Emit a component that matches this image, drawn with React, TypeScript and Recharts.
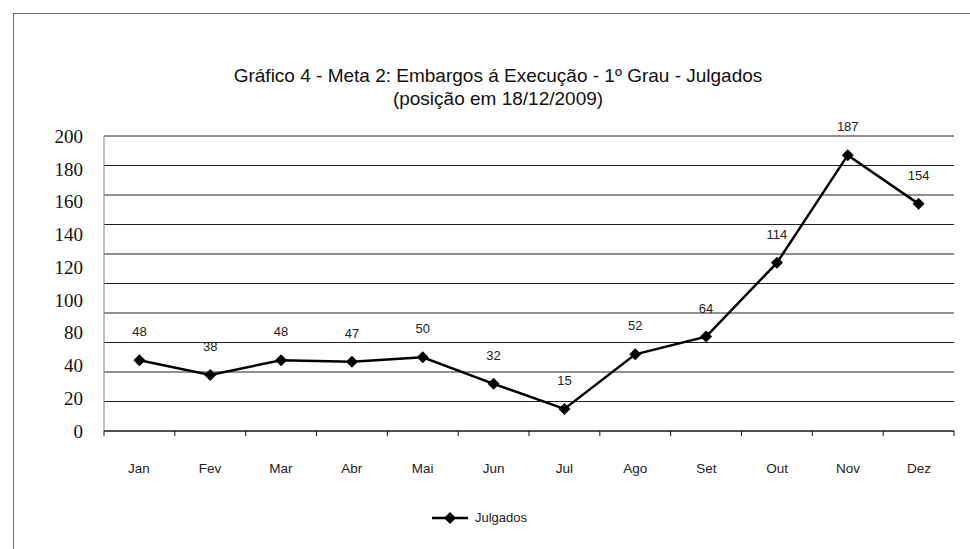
import { LineChart, Line, XAxis, YAxis, CartesianGrid, LabelList } from "recharts";

const months = ["Jan", "Fev", "Mar", "Abr", "Mai", "Jun", "Jul", "Ago", "Set", "Out", "Nov", "Dez"];
const julgados = [48, 38, 48, 47, 50, 32, 15, 52, 64, 114, 187, 154];
// value grid every 20, the printed labels as they appear on the scan
const valueTicks = [0, 20, 40, 60, 80, 100, 120, 140, 160, 180, 200];
const yLabels = ["0", "20", "40", "80", "100", "120", "140", "160", "180", "200"];
const bandTicks = [0, 1, 2, 3, 4, 5, 6, 7, 8, 9, 10, 11, 12];

// each month sits in the middle of its band
const data = months.map((m, i) => ({ month: m, pos: i + 0.5, julgados: julgados[i] }));

const sans = "'Liberation Sans', Arial, sans-serif";
const serif = "'Liberation Serif', 'Times New Roman', serif";

const Diamond = (props: any) => {
  const { cx, cy } = props;
  if (cx == null || cy == null) return null;
  const r = 6;
  return (
    <polygon
      points={`${cx},${cy - r} ${cx + r},${cy} ${cx},${cy + r} ${cx - r},${cy}`}
      fill="#000"
    />
  );
};

const ValueLabel = (props: any) => {
  const { x, y, value } = props;
  return (
    <text x={x} y={y - 24} textAnchor="middle" fontSize={13} fontFamily={sans} fill="#222">
      {value}
    </text>
  );
};

export default function App() {
  return (
    <div style={{ position: "absolute", left: 0, top: 0, width: 970, height: 549, background: "#fff" }}>
      <div
        style={{
          position: "absolute",
          left: 13,
          top: 13,
          right: 0,
          bottom: 0,
          borderTop: "1px solid #666",
          borderLeft: "1px solid #666",
        }}
      />
      <div
        style={{
          position: "absolute",
          left: 0,
          width: 996,
          top: 64,
          textAlign: "center",
          fontFamily: sans,
          fontSize: 19,
          lineHeight: "23px",
          color: "#111",
        }}
      >
        <div>Gráfico 4 - Meta 2: Embargos á Execução - 1º Grau - Julgados</div>
        <div>(posição em 18/12/2009)</div>
      </div>
      <div style={{ position: "absolute", left: 0, top: 0 }}>
        <LineChart width={970} height={549} data={data} margin={{ top: 136, right: 16, bottom: 77, left: 0 }}>
          <CartesianGrid yAxisId="v" xAxisId="a" vertical={false} horizontal stroke="#222" strokeWidth={1} />
          <XAxis
            xAxisId="a"
            dataKey="pos"
            type="number"
            domain={[0, 12]}
            allowDataOverflow
            ticks={bandTicks}
            height={1}
            tickSize={5}
            tickFormatter={() => ""}
            axisLine={{ stroke: "#111" }}
            tickLine={{ stroke: "#111" }}
          />
          <XAxis
            xAxisId="m"
            dataKey="month"
            height={40}
            padding={{ left: 35, right: 35 }}
            axisLine={false}
            tickLine={false}
            tickSize={0}
            tickMargin={31}
            interval={0}
            tick={{ fontSize: 13.5, fontFamily: sans, fill: "#222" }}
          />
          <YAxis
            yAxisId="lbl"
            type="number"
            domain={[0, 9]}
            allowDataOverflow
            ticks={[0, 1, 2, 3, 4, 5, 6, 7, 8, 9]}
            tickFormatter={(i: number) => yLabels[i]}
            width={104}
            tickLine={false}
            tickSize={6}
            tickMargin={15}
            axisLine={{ stroke: "#888" }}
            tick={{ fontSize: 19, fontFamily: serif, fill: "#111" }}
          />
          <YAxis yAxisId="v" hide type="number" domain={[0, 200]} ticks={valueTicks} />
          <Line
            xAxisId="a"
            yAxisId="v"
            dataKey="julgados"
            name="Julgados"
            type="linear"
            stroke="#000"
            strokeWidth={2.5}
            dot={<Diamond />}
            activeDot={false}
            isAnimationActive={false}
          >
            <LabelList dataKey="julgados" content={<ValueLabel />} />
          </Line>
        </LineChart>
      </div>
      <div
        style={{
          position: "absolute",
          left: 432,
          top: 510,
          display: "flex",
          alignItems: "center",
          fontFamily: sans,
          fontSize: 13,
          color: "#222",
        }}
      >
        <svg width={36} height={14} style={{ marginRight: 7 }}>
          <line x1={0} y1={7} x2={36} y2={7} stroke="#000" strokeWidth={2.5} />
          <polygon points="18,1 24,7 18,13 12,7" fill="#000" />
        </svg>
        <span>Julgados</span>
      </div>
    </div>
  );
}
